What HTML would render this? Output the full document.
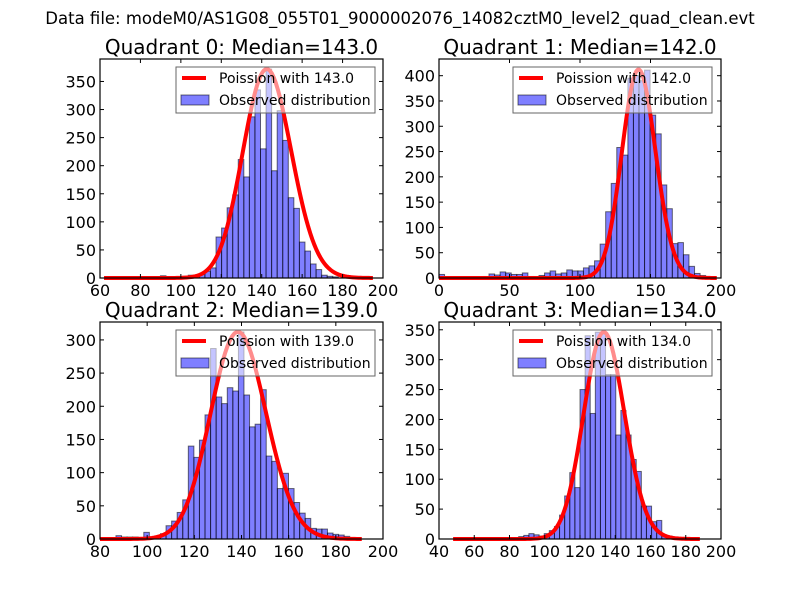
<!DOCTYPE html>
<html><head><meta charset="utf-8"><style>
html,body{margin:0;padding:0;background:#fff;}
svg{display:block;font-family:"DejaVu Sans","Liberation Sans",sans-serif;}
</style></head><body>
<svg id="fig" width="800" height="600" viewBox="0 0 800 600" xmlns="http://www.w3.org/2000/svg">
<text x="400" y="24" text-anchor="middle" font-size="16.5">Data file: modeM0/AS1G08_055T01_9000002076_14082cztM0_level2_quad_clean.evt</text>
</svg>
<script>
// ---- data ----
const quadrantNames = ["Quadrant 0","Quadrant 1","Quadrant 2","Quadrant 3"];
const medians = [143.0, 142.0, 139.0, 134.0];
const binStarts = [62.4, 0, 86.77, 85.2];
const binWidths = [2.75, 3.94, 2.36, 2.9];
const counts0 = [0,0,0,0,0,0,0,0,0,0,4,0,0,0,3,5,5,8,12,18,73,89,125,148,211,180,287,335,230,372,191,298,245,143,124,64,48,25,15,5,3,2];
const counts1 = [7,0,0,0,0,0,0,2,3,8,6,12,10,7,7,10,3,3,5,10,14,8,10,16,14,14,20,24,34,67,131,187,258,243,395,400,390,411,322,285,184,137,68,70,46,23,9,5,2];
const counts2 = [5,3,3,3,0,10,1,3,8,20,27,40,59,140,123,149,187,287,214,204,228,223,312,217,169,173,225,125,117,76,99,76,55,39,31,16,15,15,9,7,6,4,2];
const counts3 = [4,6,9,7,5,9,14,21,40,72,111,86,250,340,210,346,346,275,275,174,215,174,133,113,55,55,29,31,5,5,3,2];
const curveMin = [62, 0, 80, 48];
const curveMax = [195, 197, 191, 188];
const curvePeaks = [372, 412, 312, 346];
const xTicks0 = [60,80,100,120,140,160,180,200];
const xTicks1 = [0,50,100,150,200];
const xTicks2 = [80,100,120,140,160,180,200];
const xTicks3 = [40,60,80,100,120,140,160,180,200];
const yTicks0 = [0,50,100,150,200,250,300,350];
const yTicks1 = [0,50,100,150,200,250,300,350,400];
const yTicks2 = [0,50,100,150,200,250,300];
const yTicks3 = [0,50,100,150,200,250,300,350];
const yMax = [390, 433, 327, 363];

// ---- layout ----
const boxes = [[100,59,383,278],[439,59,721,278],[100,322,383,539],[439,322,721,539]];
const allCounts = [counts0,counts1,counts2,counts3];
const allX = [xTicks0,xTicks1,xTicks2,xTicks3];
const allY = [yTicks0,yTicks1,yTicks2,yTicks3];
const NS = "http://www.w3.org/2000/svg";
const svg = document.getElementById('fig');
function mk(tag, attrs, parent){const e=document.createElementNS(NS,tag);for(const k in attrs)e.setAttribute(k,attrs[k]);(parent||svg).appendChild(e);return e;}

function logPois(k, lam){let s=0;for(let i=2;i<=k;i++)s+=Math.log(i);return k*Math.log(lam)-lam-s;}

for(let q=0;q<4;q++){
  const [L,T,R,B]=boxes[q];
  const xt=allX[q], yt=allY[q];
  const xmin=xt[0], xmax=xt[xt.length-1];
  const sx=v=>L+(v-xmin)/(xmax-xmin)*(R-L);
  const sy=v=>B-v/yMax[q]*(B-T);
  const g=mk('g',{});
  
  
  const title=mk('text',{x:(L+R)/2,y:T-5,'text-anchor':'middle','font-size':'20'},g);
  
  
  title.textContent=quadrantNames[q]+': Median='+medians[q].toFixed(1);
  const cs=allCounts[q];
  for(let i=0;i<cs.length;i++){
    if(cs[i]<=0) continue;
    const x0=sx(binStarts[q]+i*binWidths[q]), x1=sx(binStarts[q]+(i+1)*binWidths[q]);
    const r=mk('rect',{x:x0,y:sy(cs[i]),width:x1-x0,height:B-sy(cs[i]),fill:'rgba(0,0,255,0.5)',stroke:'rgba(0,0,0,0.55)','stroke-width':'1'},g);
    
    
  }
  const lam=medians[q];
  const pk=Math.exp(logPois(Math.floor(lam),lam));
  let pts=[];
  for(let k=curveMin[q];k<=curveMax[q];k++){
    const v=curvePeaks[q]*Math.exp(logPois(k,lam))/pk;
    pts.push(sx(k).toFixed(2)+','+sy(v).toFixed(2));
  }
  const pl=mk('polyline',{points:pts.join(' '),fill:'none',stroke:'#ff0000','stroke-width':'4','stroke-linejoin':'round'},g);
  
  
  const fr=mk('rect',{x:L,y:T,width:R-L,height:B-T,fill:'none',stroke:'#000','stroke-width':'1.2'},g);
  
  
  xt.forEach(v=>{
    const x=sx(v);
    mk('line',{x1:x,y1:B,x2:x,y2:B-4,stroke:'#000'},g);
    mk('line',{x1:x,y1:T,x2:x,y2:T+4,stroke:'#000'},g);
    const t=mk('text',{x:x,y:B+18,'text-anchor':'middle','font-size':'16'},g);
    
    
    t.textContent=v;
  });
  yt.forEach(v=>{
    const y=sy(v);
    mk('line',{x1:L,y1:y,x2:L+4,y2:y,stroke:'#000'},g);
    mk('line',{x1:R,y1:y,x2:R-4,y2:y,stroke:'#000'},g);
    const t=mk('text',{x:L-4,y:y+6,'text-anchor':'end','font-size':'16'},g);
    
    
    t.textContent=v;
  });
  const lx=(q%2===0)?176:513, ly=T+8;
  const lg=mk('g',{},g);
  
  
  mk('rect',{x:lx,y:ly,width:199,height:46,fill:'rgba(255,255,255,0.55)',stroke:'#666','stroke-width':'1'},lg);
  mk('line',{x1:lx+6,y1:ly+11,x2:lx+30,y2:ly+11,stroke:'#ff0000','stroke-width':'4'},lg);
  const t1=mk('text',{x:lx+43,y:ly+16,'font-size':'14'},lg);
  
  
  t1.textContent='Poission with '+medians[q].toFixed(1);
  mk('rect',{x:lx+5,y:ly+28,width:28,height:10,fill:'rgba(0,0,255,0.5)',stroke:'rgba(0,0,0,0.55)'},lg);
  const t2=mk('text',{x:lx+43,y:ly+38,'font-size':'14'},lg);
  
  
  t2.textContent='Observed distribution';
}
</script>
</body></html>
